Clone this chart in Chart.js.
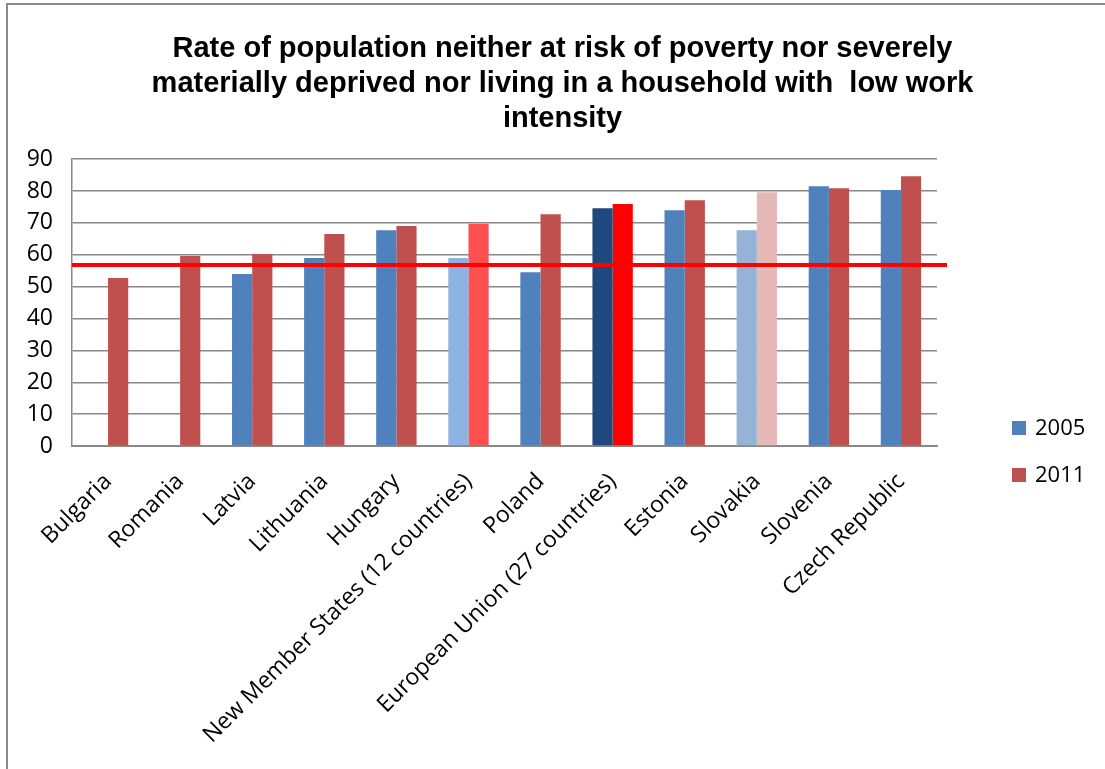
<!DOCTYPE html>
<html>
<head>
<meta charset="utf-8">
<script src="https://cdn.jsdelivr.net/npm/chart.js@4.4.1/dist/chart.umd.min.js"></script>
<style>
  html, body { margin: 0; padding: 0; background: #fff; }
</style>
</head>
<body>
<canvas id="poverty_chart" width="1105" height="769"></canvas>
<script>
const countries = [
  "Bulgaria", "Romania", "Latvia", "Lithuania", "Hungary",
  "New Member States (12 countries)", "Poland", "European Union (27 countries)",
  "Estonia", "Slovakia", "Slovenia", "Czech Republic",
];
const series_names = ["2005", "2011"];
const rate_2005 = [null, null, 54.0, 59.0, 67.7, 59.0, 54.5, 74.6, 74.0, 67.7, 81.5, 80.3];
const rate_2011 = [52.7, 59.6, 60.2, 66.5, 69.0, 69.7, 72.7, 75.9, 77.1, 79.6, 80.9, 84.6];
const y_ticks = [0, 10, 20, 30, 40, 50, 60, 70, 80, 90];
const eu_target = 56.8;

// bar fills, aggregates and Slovakia picked out
const colors_2005 = ["#4F81BD", "#4F81BD", "#4F81BD", "#4F81BD", "#4F81BD", "#8DB3E2",
  "#4F81BD", "#1F497D", "#4F81BD", "#95B3D7", "#4F81BD", "#4F81BD"];
const colors_2011 = ["#C0504D", "#C0504D", "#C0504D", "#C0504D", "#C0504D", "#FF5050",
  "#C0504D", "#FF0000", "#C0504D", "#E6B9B8", "#C0504D", "#C0504D"];
const legend_colors = ["#4F81BD", "#C0504D"];

const tick_font = { family: "'Open Sans', sans-serif", size: 23 };

const extras = {
  id: "extras",
  beforeDraw(chart) {
    const ctx = chart.ctx;
    ctx.save();
    ctx.strokeStyle = "#8a8a8a";
    ctx.lineWidth = 2;
    ctx.beginPath();
    ctx.moveTo(7, chart.height);
    ctx.lineTo(7, 4);
    ctx.lineTo(chart.width, 4);
    ctx.stroke();
    ctx.restore();
  },
  afterDatasetsDraw(chart) {
    const ctx = chart.ctx;
    const area = chart.chartArea;
    const y = chart.scales.y.getPixelForValue(eu_target);
    ctx.save();
    ctx.strokeStyle = "#FF0000";
    ctx.lineWidth = 4;
    ctx.beginPath();
    ctx.moveTo(area.left, y);
    ctx.lineTo(area.right + 10, y);
    ctx.stroke();
    ctx.restore();
  },
  afterDraw(chart) {
    const ctx = chart.ctx;
    const area = chart.chartArea;
    ctx.save();
    ctx.font = "22px 'Open Sans', sans-serif";
    ctx.textBaseline = "middle";
    series_names.forEach((name, i) => {
      const cy = area.bottom - 18 + i * 47;
      ctx.fillStyle = legend_colors[i];
      ctx.fillRect(area.right + 75, cy - 7, 14, 14);
      ctx.fillStyle = "#000";
      ctx.fillText(name, area.right + 98, cy + 1);
    });
    ctx.restore();
  },
};

const poverty_config = {
  type: "bar",
  data: {
    labels: countries,
    datasets: [
      { label: series_names[0], data: rate_2005, backgroundColor: colors_2005 },
      { label: series_names[1], data: rate_2011, backgroundColor: colors_2011 },
    ],
  },
  options: {
    responsive: false,
    animation: false,
    layout: { padding: { left: 20, right: 0, top: 0, bottom: 0 } },
    datasets: {
      bar: { categoryPercentage: 0.56, barPercentage: 1.0 },
    },
    plugins: {
      legend: { display: false },
      tooltip: { enabled: false },
      title: {
        display: true,
        text: [
          "Rate of population neither at risk of poverty nor severely",
          "materially deprived nor living in a household with  low work",
          "intensity",
        ],
        color: "#000",
        font: { family: "'Liberation Sans', Arial, sans-serif", size: 29, weight: "bold", lineHeight: 1.22 },
        padding: { top: 31, bottom: 22 },
      },
    },
    scales: {
      x: {
        grid: { display: false, drawTicks: false },
        border: { display: true, color: "#888", width: 2 },
        ticks: { color: "#000", font: tick_font, maxRotation: 45, minRotation: 45, padding: 22, autoSkip: false },
        afterFit(scale) { scale.height = 323; },
      },
      y: {
        min: 0,
        max: 90,
        afterBuildTicks(scale) { scale.ticks = y_ticks.map((v) => ({ value: v })); },
        grid: { color: "#888", lineWidth: 1.5, drawTicks: false },
        border: { display: true, color: "#888", width: 1.5 },
        ticks: { color: "#000", font: tick_font, padding: 19 },
        afterFit(scale) { scale.width = 52; },
      },
      // empty strip on the right that holds the legend
      legend_space: {
        position: "right",
        grid: { display: false, drawTicks: false },
        border: { display: false },
        ticks: { display: false },
        afterFit(scale) { scale.width = 168; },
      },
    },
  },
  plugins: [extras],
};

const poverty_chart = new Chart(document.getElementById("poverty_chart"), poverty_config);
</script>
</body>
</html>
